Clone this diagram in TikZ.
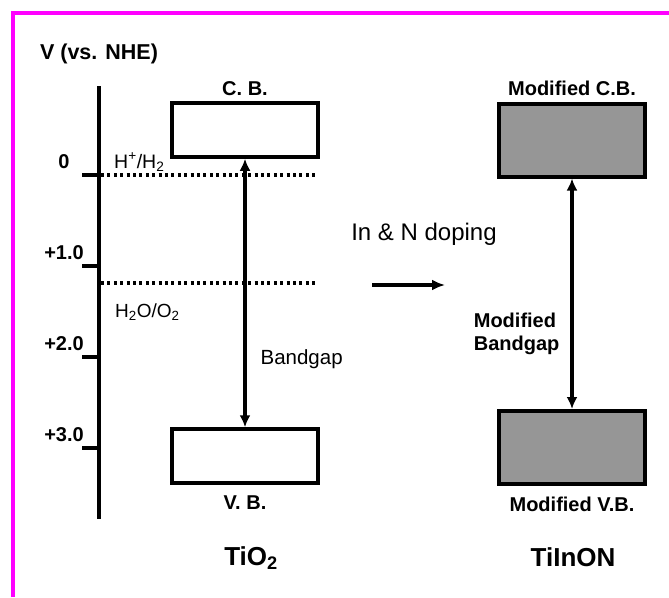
\documentclass[tikz,border=0pt]{standalone}
\usepackage{fontspec}
\setmainfont{Liberation Sans}
\usetikzlibrary{positioning, arrows.meta}
\definecolor{bandgray}{HTML}{969696}
\definecolor{frame}{HTML}{FF00FF}

\begin{document}
\begin{tikzpicture}[
  x=1pt, y=-1pt,
  node distance=4pt,
  band/.style={draw, line width=3.5pt, minimum width=146pt,
               minimum height=54pt, inner sep=0pt},
  modband/.style={band, fill=bandgray, line width=4pt, minimum height=73pt},
  lbl/.style={inner sep=1pt, font=\fontsize{20}{23}\selectfont\bfseries},
  txt/.style={inner sep=1pt, font=\fontsize{20.5}{23}\selectfont},
  ttl/.style={inner sep=1pt, font=\fontsize{26}{29}\selectfont\bfseries},
  ar/.style={{Latex[length=12pt,width=11pt]}-{Latex[length=12pt,width=11pt]}, line width=3.2pt},
  lvl/.style={line width=3.2pt, dash pattern=on 3pt off 3.4pt},
  axtick/.style={line width=3.5pt},
]
  \useasboundingbox (0,0) rectangle (669,597);
  \draw[frame, line width=4.5pt] (13,597) -- (13,13) -- (669,13);

  % potential axis
  \coordinate (axtop) at (99,86);
  \coordinate (axbot) at (99,519);
  \draw[line width=3.2pt] (axtop) -- (axbot);
  \node[lbl, font=\fontsize{21.5}{24}\selectfont\bfseries] (vtitle) at (99,54) {V (vs. NHE)};
  \foreach \y/\v in {175/0, 266/+1.0, 357/+2.0, 448/+3.0} {
    \draw[axtick] (82,\y) -- (99,\y);
    \node[lbl] at (64,\y-13) {\v};
  }

  % redox levels
  \coordinate (h0l) at (101,175);
  \coordinate (h0r) at (318,175);
  \coordinate (o2l) at (101,283);
  \coordinate (o2r) at (318,283);
  \draw[lvl] (h0l) -- (h0r);
  \draw[lvl] (o2l) -- (o2r);
  \node[txt, font=\fontsize{19.5}{22}\selectfont, anchor=base west] (hlbl) at (113,168) {H\textsuperscript{+}/H\textsubscript{2}};
  \node[txt, font=\fontsize{19}{22}\selectfont, anchor=base west] (olbl) at (114,317) {H\textsubscript{2}O/O\textsubscript{2}};

  % TiO2 bands
  \node[band] (cb) at (245,130) {};
  \node[band] (vb) at (245,456) {};
  \node[lbl, above=of cb] (cblbl) {C. B.};
  \node[lbl, below=10pt of vb] (vblbl) {V. B.};
  \node[ttl, anchor=base] (tio) at (251,565) {TiO\textsubscript{2}};
  \draw[ar] (cb) -- node[txt, pos=.745, right=13pt] {Bandgap} (vb);

  % doping
  \node[txt, font=\fontsize{24}{28}\selectfont, anchor=base] (dop) at (424,240) {In \& N doping};
  \coordinate (dl) at (372,285);
  \coordinate (dr) at (445,285);
  \draw[-{Latex[length=13pt,width=11pt]}, line width=3.5pt] (dl) -- (dr);

  % TiInON bands
  \node[modband] (mcb) at (572,140) {};
  \node[modband] (mvb) at (572,447.5) {};
  \node[lbl, above=5pt of mcb] (mcblbl) {Modified C.B.};
  \node[lbl, below=10pt of mvb] (mvblbl) {Modified V.B.};
  \node[ttl, anchor=base] (tinon) at (573,566) {TiInON};
  \draw[ar] (mcb) -- node[lbl, pos=.675, left=10pt, align=left] {Modified\\Bandgap} (mvb);
\end{tikzpicture}
\end{document}
